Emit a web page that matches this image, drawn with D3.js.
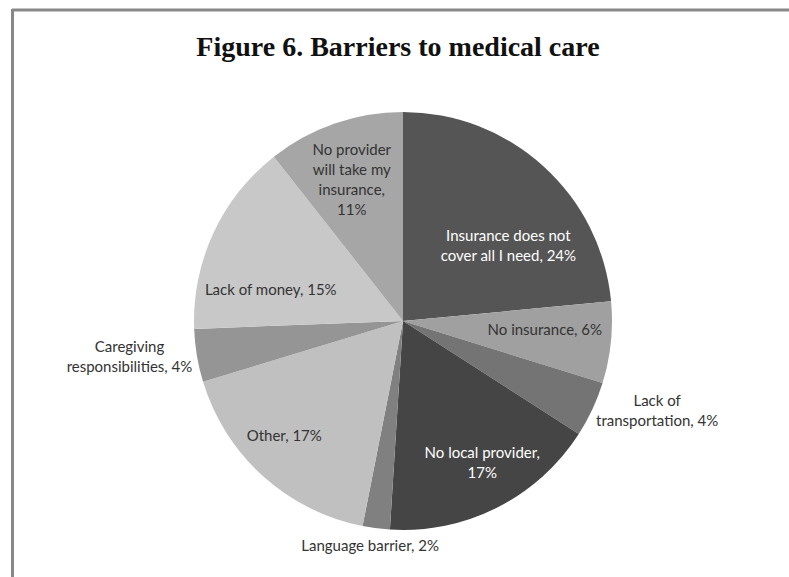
<!DOCTYPE html>
<html>
<head>
<meta charset="utf-8">
<script src="https://cdn.jsdelivr.net/npm/d3@7"></script>
<style>
  body { margin: 0; background: #fff; }
  svg { display: block; }
</style>
</head>
<body>
<svg width="789" height="577"></svg>
<script>
// slice data, clockwise from 12 o'clock
var categories = [
  "Insurance does not cover all I need",
  "No insurance",
  "Lack of transportation",
  "No local provider",
  "Language barrier",
  "Other",
  "Caregiving responsibilities",
  "Lack of money",
  "No provider will take my insurance"
];
var values = [23.5, 6.3, 4.3, 16.9, 2.1, 17.2, 4.1, 15.0, 10.6];
var sliceColors = ["#555555", "#a0a0a0", "#747474", "#454545", "#808080", "#c0c0c0", "#959595", "#c8c8c8", "#a6a6a6"];
// label lines as drawn in the chart
var labelLines = [
  ["Insurance does not", "cover all I need, 24%"],
  ["No insurance, 6%"],
  ["Lack of", "transportation, 4%"],
  ["No local provider,", "17%"],
  ["Language barrier,  2%"],
  ["Other, 17%"],
  ["Caregiving", "responsibilities, 4%"],
  ["Lack of money, 15%"],
  ["No provider", "will take my", "insurance,", "11%"]
];
// label placement: angle (degrees clockwise from top) and radius factor
var labelAngle = [54.4, 93.7, 109.5, 150.9, 188.3, 226, 262.5, 283.2, 340.1];
var labelRadius = [0.62, 0.68, 1.29, 0.78, 1.09, 0.79, 1.32, 0.65, 0.72];
var whiteText = [true, false, false, true, false, false, false, false, false];

var svg = d3.select("svg"),
    cx = 403,
    cy = 321,
    radius = 209;

// frame (top and left edges only)
svg.append("line").attr("x1", 12).attr("y1", 10).attr("x2", 789).attr("y2", 10)
  .attr("stroke", "#888").attr("stroke-width", 3);
svg.append("line").attr("x1", 12.5).attr("y1", 9).attr("x2", 12.5).attr("y2", 577)
  .attr("stroke", "#888").attr("stroke-width", 3);

svg.append("text")
  .attr("x", 398)
  .attr("y", 56)
  .attr("text-anchor", "middle")
  .attr("font-family", "Liberation Serif, serif")
  .attr("font-weight", "bold")
  .attr("font-size", 28)
  .attr("fill", "#111")
  .text("Figure 6. Barriers to medical care");

var pie = d3.pie().sort(null).value(function(d) { return d; });
var arcs = pie(values);
var arc = d3.arc().innerRadius(0).outerRadius(radius);

var g = svg.append("g").attr("transform", "translate(" + cx + "," + cy + ")");

g.selectAll("path")
  .data(arcs)
  .enter().append("path")
    .attr("d", arc)
    .attr("fill", function(d, i) { return sliceColors[i]; });

var lineH = 20;
g.selectAll("text.lbl")
  .data(arcs)
  .enter().append("text")
    .attr("class", "lbl")
    .attr("font-family", "Lato, 'Open Sans', sans-serif")
    .attr("font-size", 15)
    .attr("text-anchor", "middle")
    .attr("fill", function(d, i) { return whiteText[i] ? "#fff" : "#333"; })
    .each(function(d, i) {
      var a = labelAngle[i] * Math.PI / 180;
      var r = radius * labelRadius[i];
      var x = Math.sin(a) * r, y = -Math.cos(a) * r;
      var lines = labelLines[i];
      var y0 = y - (lines.length - 1) * lineH / 2 + 5;
      var t = d3.select(this);
      lines.forEach(function(s, k) {
        t.append("tspan").attr("x", x).attr("y", y0 + k * lineH).text(s);
      });
    });
</script>
</body>
</html>
